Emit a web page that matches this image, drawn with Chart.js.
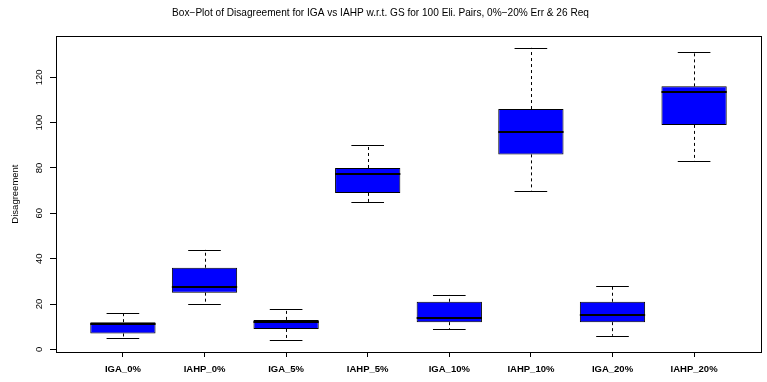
<!DOCTYPE html>
<html>
<head>
<meta charset="utf-8">
<script src="https://cdn.jsdelivr.net/npm/chart.js@4/dist/chart.umd.min.js"></script>
<style>
  html, body { margin: 0; padding: 0; background: #fff; }
  #wrap { width: 767px; height: 382px; }
</style>
</head>
<body>
<div id="wrap"><canvas id="c" width="767" height="382"></canvas></div>
<script>
// Box-plot summary per group: whisker ends, quartiles and median
const categories  = ['IGA_0%', 'IAHP_0%', 'IGA_5%', 'IAHP_5%', 'IGA_10%', 'IAHP_10%', 'IGA_20%', 'IAHP_20%'];
const whiskerLow  = [5, 20, 4, 65, 9, 70, 6, 83];
const quartile1   = [7, 25, 9, 69, 12, 86, 12, 99];
const medians     = [11, 27.5, 12, 77.5, 14, 96, 15, 113.5];
const quartile3   = [12, 36, 13, 80, 21, 106, 21, 116];
const whiskerHigh = [16, 44, 18, 90, 24, 133, 28, 131];
const yTicks      = [0, 20, 40, 60, 80, 100, 120];

const FONT = "'Liberation Sans', Arial, Helvetica, sans-serif";

// R-style 4% range extension on both axes
const dataMin = Math.min(...whiskerLow);
const dataMax = Math.max(...whiskerHigh);
const ySpan = dataMax - dataMin;
const yMin = dataMin - 0.04 * ySpan;
const yMax = dataMax + 0.04 * ySpan;
const xMin = 0.5 - 0.04 * categories.length;
const xMax = categories.length + 0.5 + 0.04 * categories.length;

// whiskers, caps, medians and the plot frame
const boxPlotPlugin = {
  id: 'boxPlotPlugin',
  afterDatasetsDraw(chart) {
    const ctx = chart.ctx;
    const ys = chart.scales.y;
    const bars = chart.getDatasetMeta(0).data;
    ctx.save();
    ctx.strokeStyle = '#000';
    bars.forEach((bar, i) => {
      const cx = Math.round(bar.x) + 0.5;
      const half = bar.width / 2;
      const yLo = ys.getPixelForValue(whiskerLow[i]);
      const yQ1 = ys.getPixelForValue(quartile1[i]);
      const yQ3 = ys.getPixelForValue(quartile3[i]);
      const yHi = ys.getPixelForValue(whiskerHigh[i]);
      const yMed = ys.getPixelForValue(medians[i]);
      // dashed whiskers
      ctx.lineWidth = 1;
      ctx.setLineDash([3, 3]);
      ctx.beginPath();
      ctx.moveTo(cx, yQ3); ctx.lineTo(cx, yHi);
      ctx.moveTo(cx, yQ1); ctx.lineTo(cx, yLo);
      ctx.stroke();
      ctx.setLineDash([]);
      // caps
      ctx.beginPath();
      const yh = Math.round(yHi) + 0.5, yl = Math.round(yLo) + 0.5;
      ctx.moveTo(bar.x - half / 2, yh); ctx.lineTo(bar.x + half / 2, yh);
      ctx.moveTo(bar.x - half / 2, yl); ctx.lineTo(bar.x + half / 2, yl);
      ctx.stroke();
      // median
      ctx.lineWidth = 2;
      ctx.beginPath();
      ctx.moveTo(bar.x - half, Math.round(yMed)); ctx.lineTo(bar.x + half, Math.round(yMed));
      ctx.stroke();
    });
    // frame around the plotting region
    const a = chart.chartArea;
    ctx.lineWidth = 1;
    ctx.strokeRect(Math.round(a.left) + 0.5, Math.round(a.top) + 0.5,
                   Math.round(a.right - a.left), Math.round(a.bottom - a.top));
    ctx.restore();
  }
};

new Chart(document.getElementById('c'), {
  type: 'bar',
  data: {
    datasets: [{
      data: categories.map((c, i) => ({ x: i + 1, y: [quartile1[i], quartile3[i]] })),
      backgroundColor: '#0000ff',
      borderColor: '#000',
      borderWidth: 1,
      borderSkipped: false,
      categoryPercentage: 1,
      barPercentage: 0.8
    }]
  },
  options: {
    responsive: false,
    devicePixelRatio: 1,
    animation: false,
    layout: { padding: { left: 0, right: 6, top: 0, bottom: 0 } },
    plugins: {
      legend: { display: false },
      tooltip: { enabled: false },
      title: {
        display: true,
        text: 'Box\u2212Plot of Disagreement for IGA vs IAHP w.r.t. GS for 100 Eli. Pairs, 0%\u221220% Err & 26 Req',
        color: '#000',
        font: { family: FONT, size: 10.1, weight: 'normal' },
        padding: { top: 7, bottom: 17 }
      }
    },
    scales: {
      x: {
        type: 'linear',
        offset: false,
        min: xMin,
        max: xMax,
        afterBuildTicks: s => { s.ticks = categories.map((c, i) => ({ value: i + 1 })); },
        afterFit: s => { s.height = 30; },
        ticks: {
          callback: v => categories[v - 1],
          color: '#000',
          font: { family: FONT, size: 9.5, weight: 'bold' },
          padding: 7,
          maxRotation: 0,
          minRotation: 0,
          autoSkip: false
        },
        grid: { offset: false, drawOnChartArea: false, drawTicks: true, tickLength: 5, color: '#000', lineWidth: 1 },
        border: { display: false }
      },
      y: {
        min: yMin,
        max: yMax,
        afterBuildTicks: s => { s.ticks = yTicks.map(v => ({ value: v })); },
        afterFit: s => { s.width = 56; },
        title: {
          display: true,
          text: 'Disagreement',
          color: '#000',
          font: { family: FONT, size: 9.5, weight: 'normal' },
          padding: { top: 10, bottom: 0 }
        },
        ticks: {
          color: '#000',
          font: { family: FONT, size: 9.5 },
          minRotation: 90,
          maxRotation: 90,
          crossAlign: 'center',
          padding: 3
        },
        grid: { drawOnChartArea: false, drawTicks: true, tickLength: 6, color: '#000', lineWidth: 1 },
        border: { display: false }
      }
    }
  },
  plugins: [boxPlotPlugin]
});
</script>
</body>
</html>
